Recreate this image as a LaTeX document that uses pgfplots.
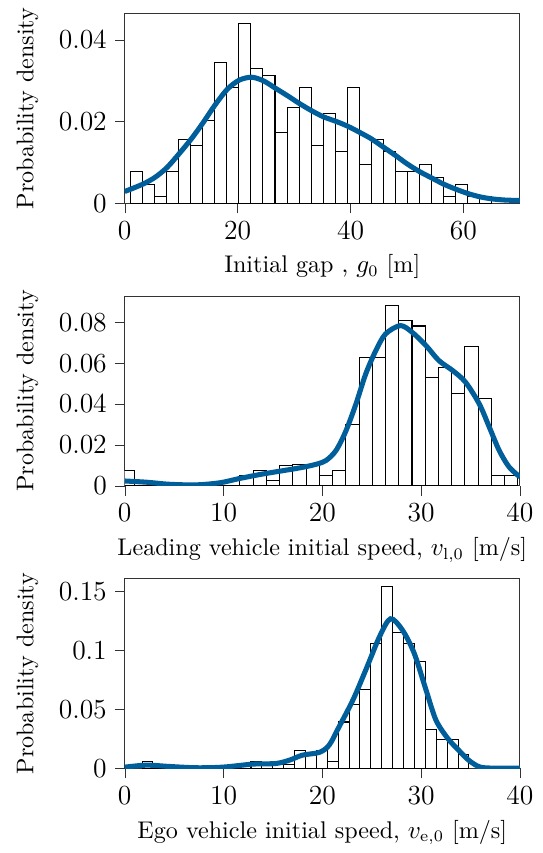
\documentclass[border=0pt]{standalone}
\usepackage{pgfplots}
\pgfplotsset{compat=1.18}
\definecolor{kdeblue}{RGB}{0,94,155}

\pgfplotsset{
  histo/.style={
    scale only axis,
    width=172pt, height=82.6pt,
    axis line style={black!80},
    tick align=outside,
    xtick pos=bottom, ytick pos=left,
    major tick length=4.3pt,
    tick style={black!80},
    tick label style={font=\fontsize{11.7}{14}\selectfont},
    label style={font=\fontsize{10.5}{13}\selectfont},
    ylabel shift=2pt,
    scaled y ticks=false,
    yticklabel style={/pgf/number format/fixed, /pgf/number format/precision=2},
    ylabel={Probability density},
    ymin=0,
  },
  bars/.style={ybar interval, draw=black, fill=white, line width=0.45pt},
  kde/.style={kdeblue, line width=2.2pt, smooth, no markers},
}

\begin{document}
\begin{tikzpicture}
% ---- initial gap
\begin{axis}[histo, name=ax1, at={(0,0)},
  xmin=0, xmax=70, ymax=0.0465,
  xtick={0,20,40,60}, ytick={0,0.02,0.04},
  xlabel={Initial gap , $g_0$ [m]}]
\addplot[bars] coordinates {
(1.06,0.00785)(3.19,0.00471)(5.32,0.00157)(7.45,0.00785)(9.58,0.0157)
(11.71,0.0141)(13.84,0.0204)(15.97,0.0345)(18.10,0.0283)(20.23,0.0440)
(22.36,0.0330)(24.49,0.0314)(26.62,0.0173)(28.75,0.0236)(30.88,0.0283)
(33.01,0.0141)(35.14,0.0220)(37.27,0.0126)(39.40,0.0283)(41.53,0.00942)
(43.66,0.0157)(45.79,0.0126)(47.92,0.00785)(50.05,0.00785)(52.18,0.00942)
(54.31,0.00628)(56.44,0.00157)(58.57,0.00471)(60.70,0.00157)(62.83,0.00157)
(64.96,0.00157)};
\addplot[kde] coordinates {
(0,0.0029)(3.2,0.0047)(5.4,0.0064)(7.5,0.0088)(9.6,0.0121)(11.8,0.0158)
(13.9,0.0198)(16.1,0.0243)(18.2,0.0280)(20.3,0.0302)(22.5,0.0309)
(24.6,0.0300)(26.7,0.0282)(28.8,0.0264)(30.9,0.0245)(33.1,0.0227)
(35.2,0.0212)(37.4,0.0201)(39.5,0.0189)(41.6,0.0174)(43.7,0.0158)
(45.9,0.0137)(48.0,0.0117)(50.1,0.0096)(52.2,0.0078)(54.4,0.0062)
(56.5,0.0047)(58.6,0.0035)(60.8,0.0024)(62.9,0.0016)(65.0,0.0011)
(67.4,0.0008)(70,0.0007)};
\end{axis}

% ---- leading vehicle speed
\begin{axis}[histo, name=ax2, at={(0,-123pt)},
  xmin=0, xmax=40, ymax=0.0928,
  xtick={0,10,20,30,40}, ytick={0,0.02,0.04,0.06,0.08},
  xlabel={Leading vehicle initial speed, $v_{\mathrm{l},0}$ [m/s]}]
\addplot[bars] coordinates {
(-0.40,0.00748)(0.94,0)(2.28,0)(3.62,0)(4.96,0)(6.30,0)(7.64,0)(8.98,0)
(10.32,0)(11.66,0.00504)(13.00,0.00748)(14.34,0.00244)(15.68,0.0101)
(17.02,0.0104)(18.36,0.0104)(19.70,0.00504)(21.04,0.00748)(22.38,0.0302)
(23.72,0.0629)(25.06,0.0629)(26.40,0.0883)(27.74,0.0807)(29.08,0.0782)
(30.42,0.0528)(31.76,0.0579)(33.10,0.0454)(34.44,0.0680)(35.78,0.0428)
(37.12,0.00504)(38.46,0.00504)(39.80,0.00504)};
\addplot[kde] coordinates {
(0,0.0024)(2.2,0.0018)(4.5,0.0008)(7.2,0.0005)(9.6,0.0015)(11.6,0.0036)
(13.6,0.0055)(15.7,0.0072)(17.7,0.0088)(19.4,0.0106)(20.4,0.0125)
(21.4,0.0174)(22.4,0.0270)(23.4,0.0400)(24.4,0.0548)(25.4,0.0660)
(26.4,0.0743)(27.9,0.0784)(29.1,0.0751)(30.5,0.0686)(31.8,0.0613)
(33.2,0.0564)(34.5,0.0507)(35.9,0.0400)(36.9,0.0288)(37.9,0.0174)
(38.9,0.0093)(40,0.0044)};
\end{axis}

% ---- ego vehicle speed
\begin{axis}[histo, name=ax3, at={(0,-246pt)},
  xmin=0, xmax=40, ymax=0.1605,
  xtick={0,10,20,30,40}, ytick={0,0.05,0.1,0.15},
  xlabel={Ego vehicle initial speed, $v_{\mathrm{e},0}$ [m/s]}]
\addplot[bars] coordinates {
(1.75,0.00604)(2.85,0)(3.96,0)(5.06,0)(6.16,0)(7.27,0)(8.37,0)(9.47,0)
(10.57,0)(11.68,0)(12.78,0.00604)(13.88,0.00302)(14.99,0.00302)
(16.09,0.00302)(17.19,0.0151)(18.30,0.0121)(19.40,0.0151)(20.50,0.00604)
(21.61,0.0393)(22.71,0.0544)(23.81,0.0665)(24.91,0.1058)(26.02,0.1540)
(27.12,0.1148)(28.22,0.1058)(29.33,0.0907)(30.43,0.0332)(31.53,0.0242)
(32.64,0.0242)(33.74,0.0121)(34.84,0.0121)};
\addplot[kde] coordinates {
(0,0.0011)(2.2,0.0028)(4.5,0.0017)(7.2,0.0006)(9.9,0.0011)(13.0,0.0037)
(15.3,0.0042)(16.7,0.0071)(18.0,0.0113)(19.7,0.0136)(20.7,0.0198)
(21.7,0.0353)(23.1,0.0579)(24.4,0.0833)(25.8,0.1116)(26.9,0.1266)
(28.1,0.1172)(29.3,0.0975)(30.5,0.0664)(31.5,0.0410)(32.7,0.0254)
(33.8,0.0155)(34.8,0.0071)(35.9,0.0014)(37.2,0.0003)(40,0.0003)};
\end{axis}

% margins of the original figure
\path (ax1.north west) ++(-54.3pt,5.5pt) coordinate (bbnw);
\path (ax3.south east) ++(10pt,-36.8pt) coordinate (bbse);
\end{tikzpicture}
\end{document}
